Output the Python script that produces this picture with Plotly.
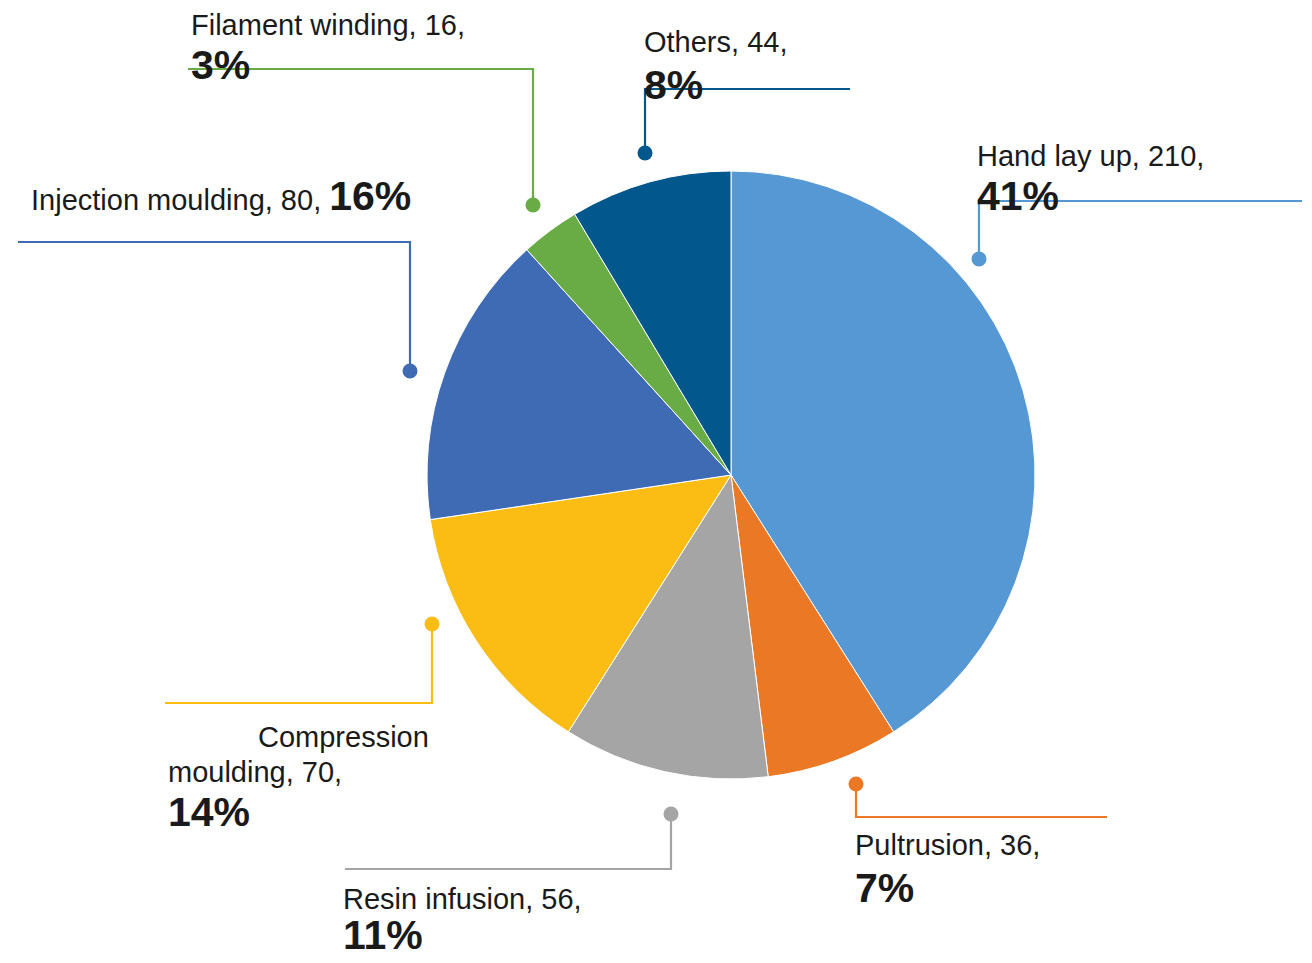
import plotly.graph_objects as go

# ---- data ----
categories = ["Hand lay up", "Pultrusion", "Resin infusion", "Compression moulding",
              "Injection moulding", "Filament winding", "Others"]
values = [210, 36, 56, 70, 80, 16, 44]
pct_labels = ["41%", "7%", "11%", "14%", "16%", "3%", "8%"]
colors = ["#5598D3", "#EA7824", "#A5A5A5", "#FBBC13", "#3F6BB4", "#69AB45", "#02578D"]

# page body has an 8px margin, so the figure is sized to fit the window
OFF = 8
W, H = 1312 - OFF, 963 - OFF
FONT = "Liberation Sans, Arial, sans-serif"
TXT = "#1a1a1a"
REG = 29
BIG = 41


def px(x):
    return (x - OFF) / W


def py(y):
    return 1 - (y - OFF) / H


fig = go.Figure()
fig.add_trace(go.Pie(
    labels=categories, values=values, sort=False, direction="clockwise", rotation=0,
    marker=dict(colors=colors, line=dict(color="white", width=1)),
    textinfo="none", hoverinfo="label+value+percent", showlegend=False,
    domain=dict(x=[px(427), px(1035)], y=[py(779), py(171)]),
))

# leader-line layout: dot (x, y), elbow y, end x  (window pixels)
leaders = {
    "Hand lay up": (979, 259, 201, 1302),
    "Pultrusion": (856, 784, 817, 1107),
    "Resin infusion": (671, 814, 869, 345),
    "Compression moulding": (432, 624, 703, 165),
    "Injection moulding": (410, 371, 242, 18),
    "Filament winding": (533, 205, 69, 188),
    "Others": (645, 153, 89, 850),
}

shapes = []
for cat, col in zip(categories, colors):
    dx, dy, ey, ex = leaders[cat]
    shapes.append(dict(type="path", xref="paper", yref="paper",
                       path=f"M {px(dx)},{py(dy)} L {px(dx)},{py(ey)} L {px(ex)},{py(ey)}",
                       line=dict(color=col, width=2.2)))
    shapes.append(dict(type="circle", xref="paper", yref="paper",
                       xsizemode="pixel", ysizemode="pixel",
                       xanchor=px(dx), yanchor=py(dy),
                       x0=-7.5, x1=7.5, y0=-7.5, y1=7.5,
                       fillcolor=col, line=dict(color=col, width=0)))

val = dict(zip(categories, values))
pct = dict(zip(categories, pct_labels))

annotations = []


def ann(text, x, y, size, bold=False, xanchor="left"):
    t = f"<b>{text}</b>" if bold else text
    annotations.append(dict(text=t, x=px(x), y=py(y), xref="paper", yref="paper",
                            xanchor=xanchor, yanchor="middle", showarrow=False,
                            borderpad=0, borderwidth=0,
                            font=dict(family=FONT, size=size, color=TXT)))


# Hand lay up
ann(f"Hand lay up, {val['Hand lay up']},", 977, 156, REG)
ann(pct["Hand lay up"], 977, 196, BIG, True)
# Others
ann(f"Others, {val['Others']},", 644, 42, REG)
ann(pct["Others"], 644, 85, BIG, True)
# Filament winding
ann(f"Filament winding, {val['Filament winding']},", 191, 25, REG)
ann(pct["Filament winding"], 191, 65, BIG, True)
# Injection moulding (single line)
annotations.append(dict(
    text=f"Injection moulding, {val['Injection moulding']}, "
         f"<span style='font-size:{BIG}px'><b>{pct['Injection moulding']}</b></span>",
    x=px(411), y=py(219), xref="paper", yref="paper", xanchor="right", yanchor="bottom",
    showarrow=False, borderpad=0, borderwidth=0,
    font=dict(family=FONT, size=REG, color=TXT)))
# Compression moulding
ann("Compression", 429, 737, REG, xanchor="right")
ann(f"moulding, {val['Compression moulding']},", 168, 772, REG)
ann(pct["Compression moulding"], 168, 812, BIG, True)
# Resin infusion
ann(f"Resin infusion, {val['Resin infusion']},", 343, 899, REG)
ann(pct["Resin infusion"], 343, 935, BIG, True)
# Pultrusion
ann(f"Pultrusion, {val['Pultrusion']},", 855, 845, REG)
ann(pct["Pultrusion"], 855, 888, BIG, True)

fig.update_layout(
    width=W, height=H,
    margin=dict(l=0, r=0, t=0, b=0),
    paper_bgcolor="white", plot_bgcolor="white",
    shapes=shapes, annotations=annotations,
    showlegend=False,
)

fig.write_html("out.html")
